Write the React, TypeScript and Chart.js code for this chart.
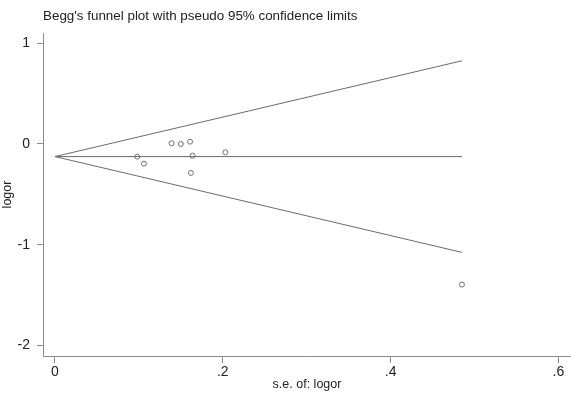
import React, { useEffect, useRef } from "react";
import { Chart, registerables } from "chart.js";

Chart.register(...registerables);

// Study standard errors and log odds ratios
const seValues = [0.098, 0.106, 0.139, 0.150, 0.161, 0.164, 0.162, 0.203, 0.485];
const logorValues = [-0.126, -0.195, 0.007, 0.0, 0.023, -0.116, -0.287, -0.082, -1.396];

// Pooled estimate and pseudo 95% confidence limits along the funnel
const limitSe = [0, 0.485];
const pooledLine = [-0.125, -0.125];
const upperLimit = [-0.125, 0.826];
const lowerLimit = [-0.125, -1.076];

const xTicks = [0, 0.2, 0.4, 0.6];
const yTicks = [-2, -1, 0, 1];

const titleText = "Begg's funnel plot with pseudo 95% confidence limits";
const FONT = "'Liberation Sans', Arial, sans-serif";

const fmtX = (v: number) => (v === 0 ? "0" : String(v).replace(/^0/, ""));

export default function App() {
  const ref = useRef<HTMLCanvasElement | null>(null);

  useEffect(() => {
    if (!ref.current) return;
    const toPts = (xs: number[], ys: number[]) => xs.map((x, i) => ({ x, y: ys[i] }));
    const lineDs = (ys: number[]) => ({
      type: "line" as const,
      data: toPts(limitSe, ys),
      borderColor: "#6a6a6a",
      borderWidth: 1,
      pointRadius: 0,
      showLine: true,
      fill: false,
    });

    const titlePlugin = {
      id: "plotTitle",
      afterDraw(chart: any) {
        const ctx = chart.ctx;
        ctx.save();
        ctx.font = `13.4px ${FONT}`;
        ctx.fillStyle = "#222";
        ctx.textBaseline = "middle";
        ctx.textAlign = "left";
        ctx.fillText(titleText, 43, 16);
        ctx.restore();
      },
    };

    const chart = new Chart(ref.current, {
      type: "scatter",
      data: {
        datasets: [
          lineDs(upperLimit),
          lineDs(pooledLine),
          lineDs(lowerLimit),
          {
            type: "scatter",
            data: toPts(seValues, logorValues),
            pointStyle: "circle",
            pointRadius: 2.5,
            pointBorderWidth: 1,
            borderColor: "#6f6f6f",
            backgroundColor: "rgba(255,255,255,0)",
          },
        ],
      } as any,
      options: {
        animation: false,
        responsive: false,
        layout: { autoPadding: false, padding: { top: 33, right: 0, left: 0, bottom: 0 } },
        plugins: { legend: { display: false }, tooltip: { enabled: false }, title: { display: false } },
        scales: {
          x: {
            type: "linear",
            min: -0.0143,
            max: 0.615,
            afterBuildTicks: (s: any) => { s.ticks = xTicks.map((v) => ({ value: v })); },
            afterFit: (s: any) => { s.height = 40; s.paddingLeft = 0; s.paddingRight = 0; },
            grid: { drawOnChartArea: false, drawTicks: true, tickLength: 7, color: "#8c8c8c" },
            border: { display: true, color: "#8c8c8c", width: 1 },
            ticks: { color: "#222", font: { family: FONT, size: 14 }, padding: 1, callback: (v: any) => fmtX(Number(v)) },
            title: { display: true, text: "s.e. of: logor", color: "#222", font: { family: FONT, size: 12.5 }, padding: { top: 0, bottom: 3.5 } },
          },
          y: {
            type: "linear",
            min: -2.105,
            max: 1.102,
            afterBuildTicks: (s: any) => { s.ticks = yTicks.map((v) => ({ value: v })); },
            afterFit: (s: any) => { s.width = 43; s.paddingTop = 0; s.paddingBottom = 0; },
            grid: { drawOnChartArea: false, drawTicks: true, tickLength: 6, color: "#8c8c8c" },
            border: { display: true, color: "#8c8c8c", width: 1 },
            ticks: { color: "#222", font: { family: FONT, size: 14 }, padding: 7, callback: (v: any) => String(v) },
            title: { display: true, text: "logor", color: "#222", font: { family: FONT, size: 12.5 }, padding: { top: 0, bottom: 0 } },
          },
        },
      } as any,
      plugins: [titlePlugin],
    });
    return () => chart.destroy();
  }, []);

  return (
    <div style={{ position: "fixed", left: 0, top: 0, width: 571, height: 396, background: "#fff" }}>
      <canvas ref={ref} width={571} height={396} style={{ display: "block" }} />
    </div>
  );
}
